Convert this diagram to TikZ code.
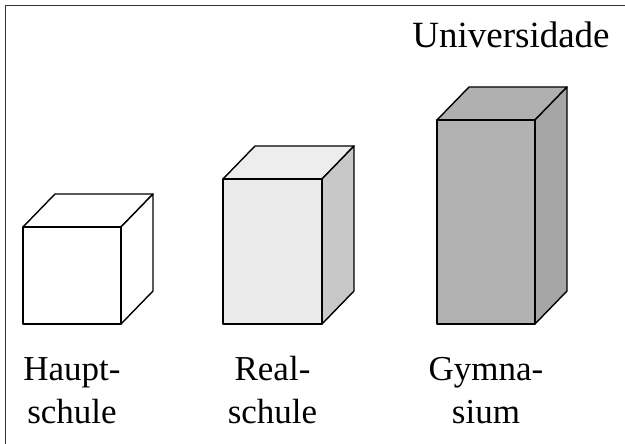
\documentclass[tikz,border=0pt]{standalone}
\usepackage{fontspec}
\setmainfont{Liberation Serif}
\definecolor{midfront}{HTML}{EBEBEB}
\definecolor{midtop}{HTML}{EDEDED}
\definecolor{midside}{HTML}{C8C8C8}
\definecolor{darkfront}{HTML}{B2B2B2}
\definecolor{darktop}{HTML}{B0B0B0}
\definecolor{darkside}{HTML}{A6A6A6}
\newcommand{\mybox}[7]{% x1 y1 x2 y2 front top side
  \filldraw[boxline,fill=#6] (#1,#2) -- ++(32,-33) -- (#3+32,#2-33) -- (#3,#2) -- cycle;
  \filldraw[boxline,fill=#7] (#3,#2) -- (#3+32,#2-33) -- (#3+32,#4-33) -- (#3,#4) -- cycle;
  \filldraw[boxline,fill=#5] (#1,#2) rectangle (#3,#4);
}
\begin{document}
\begin{tikzpicture}[x=1pt,y=-1pt,
  boxline/.style={draw=black,line width=1.4pt,line join=round},
  frame/.style={draw=black!80,line width=1pt},
  label/.style={font=\fontsize{35}{42}\selectfont,anchor=base,inner sep=0pt}]
\useasboundingbox (0,0) rectangle (625,444);
\draw[frame] (5.5,444) -- (5.5,5.5) -- (625,5.5);
\mybox{23}{227}{121}{324}{white}{white}{white}
\mybox{223}{179}{322}{324}{midfront}{midtop}{midside}
\mybox{437}{120}{535}{324}{darkfront}{darktop}{darkside}
\node[label,font=\fontsize{37}{44}\selectfont] (uni) at (511,48) {Universidade};
\node[label] (h1) at (72,380) {Haupt-};
\node[label] (h2) at (72,423) {schule};
\node[label] (r1) at (272.5,380) {Real-};
\node[label] (r2) at (272.5,423) {schule};
\node[label] (g1) at (486,380) {Gymna-};
\node[label] (g2) at (486,423) {sium};
\end{tikzpicture}
\end{document}
